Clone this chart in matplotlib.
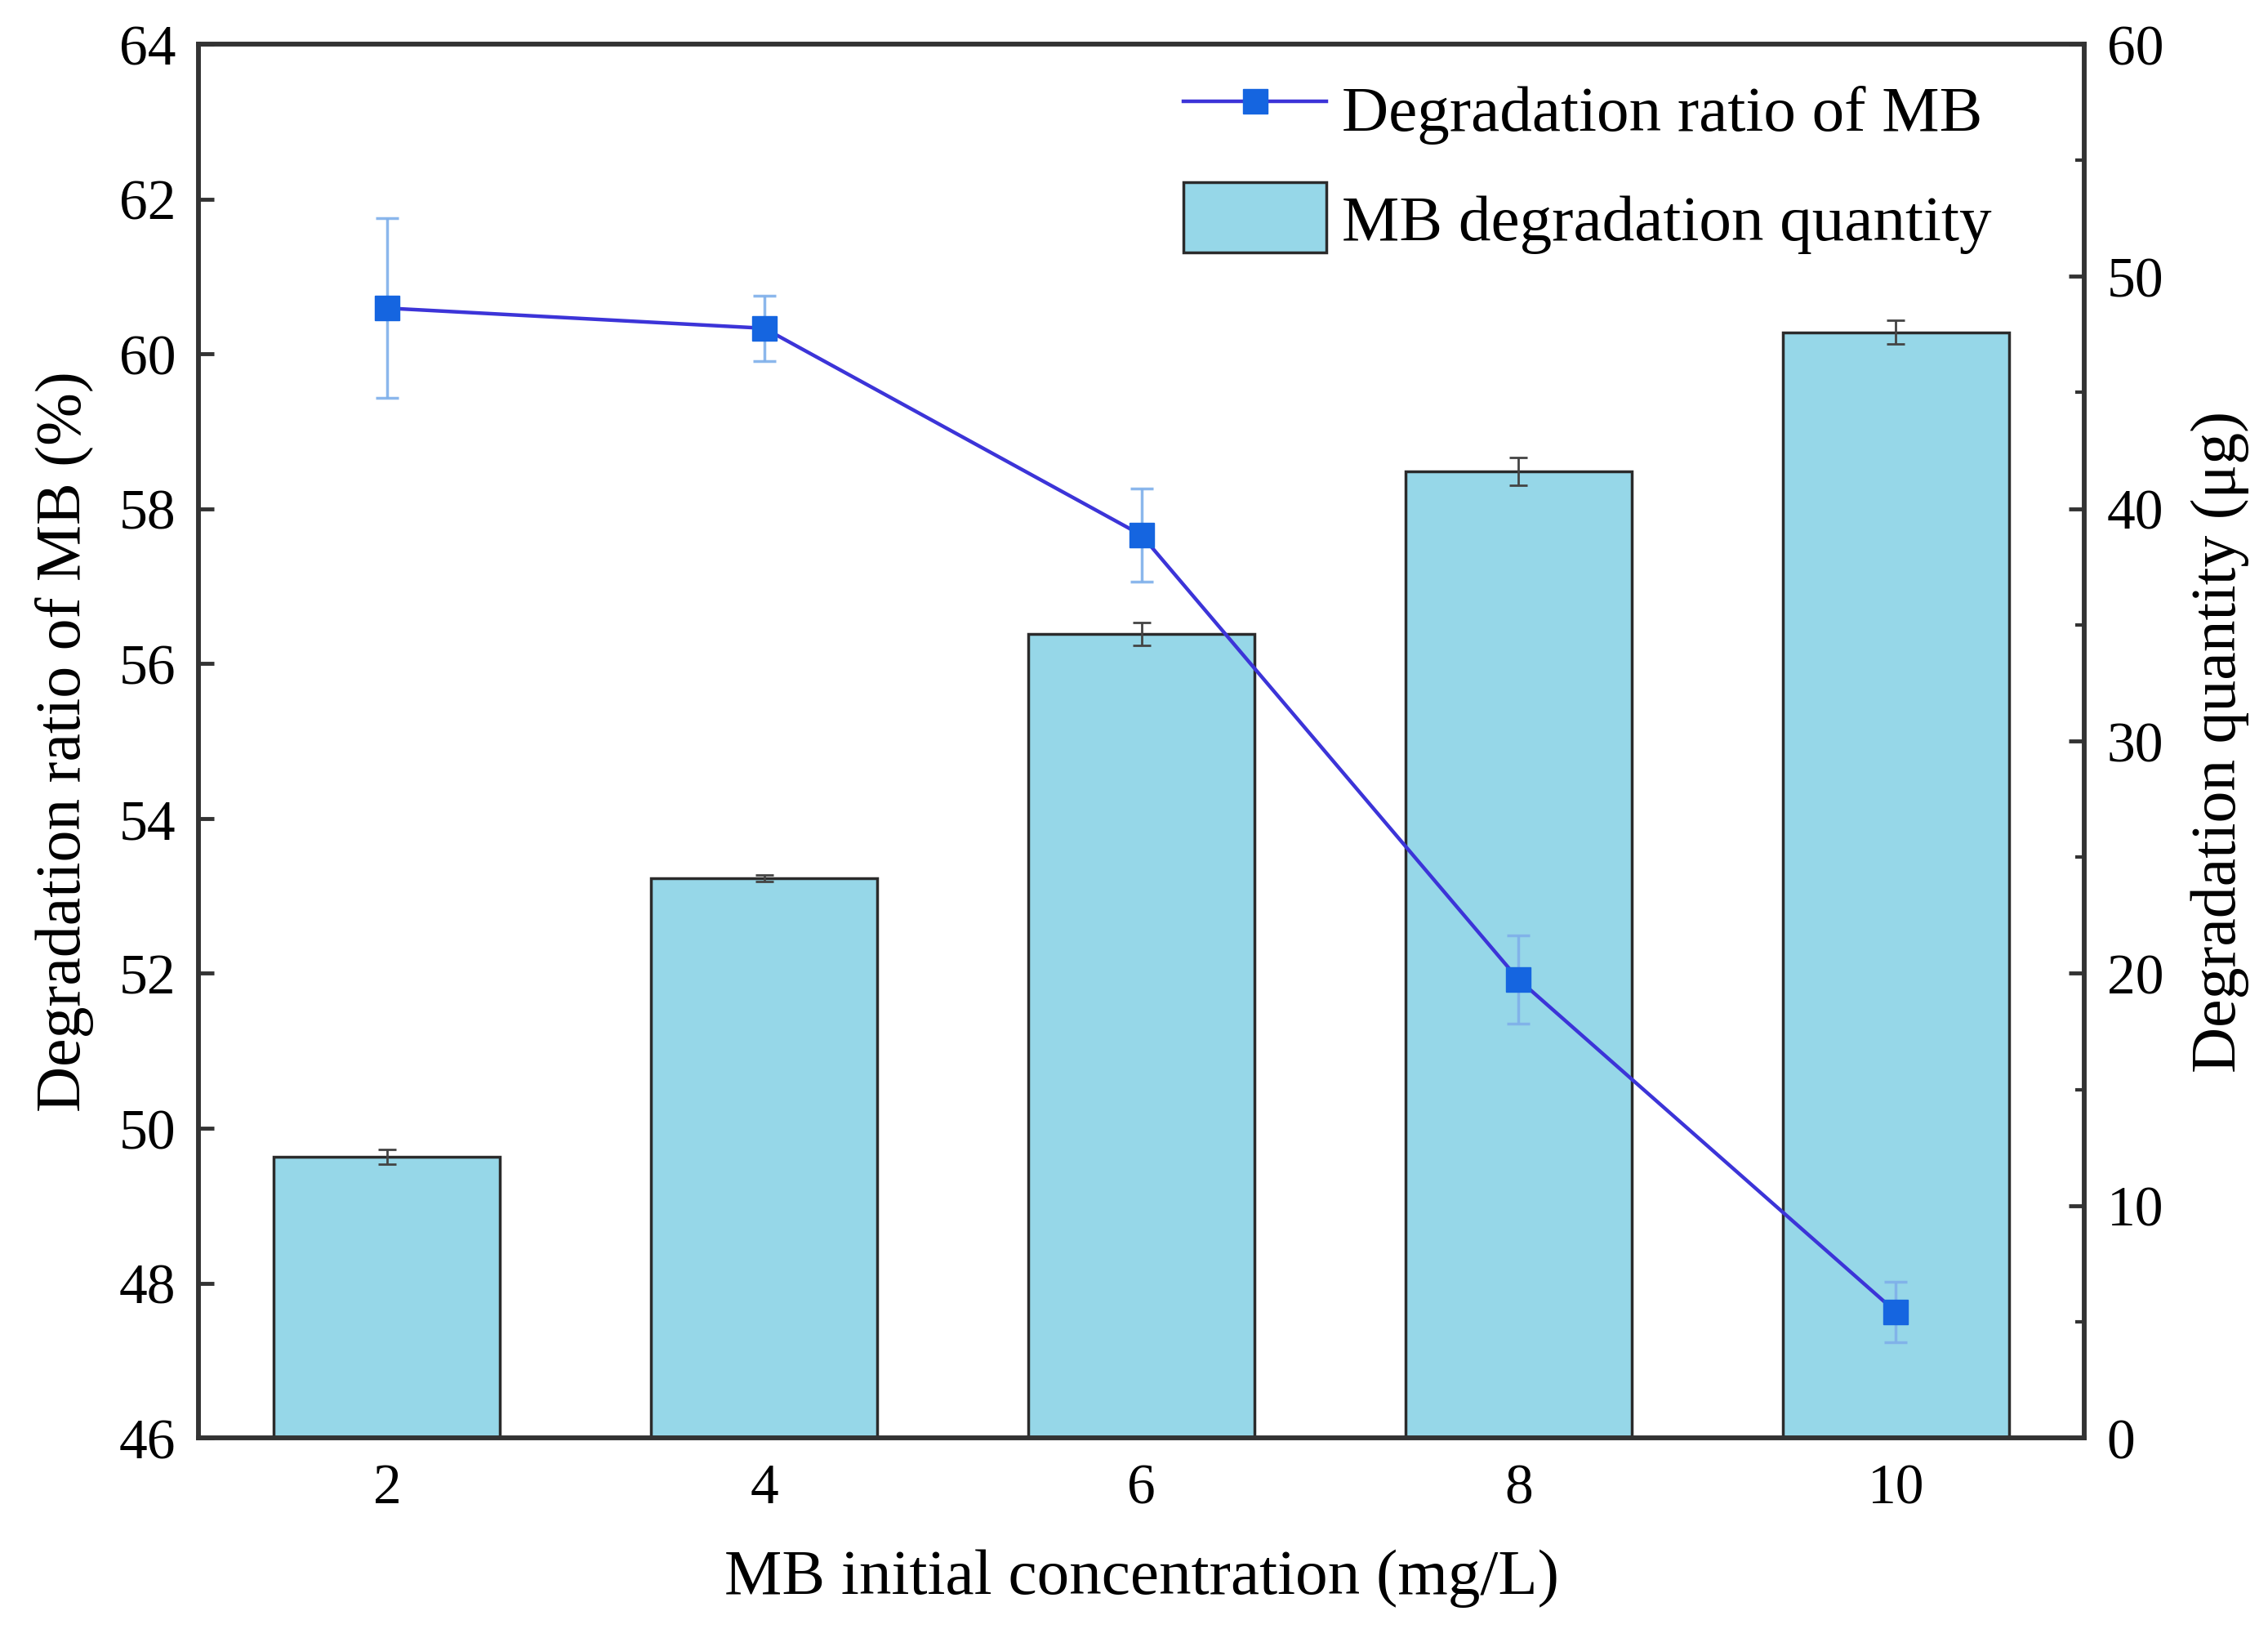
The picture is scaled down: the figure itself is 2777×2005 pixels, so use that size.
import matplotlib
matplotlib.use("Agg")
import matplotlib.pyplot as plt
from matplotlib.patches import Patch
from matplotlib.lines import Line2D
from matplotlib.ticker import MultipleLocator

# data
concentration = [2, 4, 6, 8, 10]
ratio = [60.59, 60.33, 57.66, 51.92, 47.63]
ratio_err = [1.16, 0.42, 0.60, 0.57, 0.39]
quantity = [12.1, 24.1, 34.6, 41.6, 47.6]
quantity_err = [0.3, 0.15, 0.5, 0.6, 0.5]

plt.rcParams['font.family'] = ['Liberation Serif', 'DejaVu Serif']

spine_color = '#333333'
bar_color = '#96D7E8'
line_color = '#3C34D8'
marker_color = '#1565E0'
err_color = '#7FB0EA'

fig = plt.figure(figsize=(27.77, 20.06), dpi=100)
ax1 = fig.add_axes([0.0875, 0.1221, 0.8315, 0.8505])
ax2 = ax1.twinx()

# bars on the right axis
ax2.bar(concentration, quantity, width=1.2, color=bar_color, edgecolor='#2b2b2b',
        linewidth=2.5, yerr=quantity_err, capsize=8,
        error_kw=dict(ecolor='#444444', elinewidth=2, capthick=2), zorder=2)

# line on the left axis, kept above the bars
ax1.set_zorder(ax2.get_zorder() + 1)
ax1.patch.set_visible(False)
ax1.errorbar(concentration, ratio, yerr=ratio_err, fmt='none', ecolor=err_color,
             elinewidth=2.5, capsize=10, capthick=2.5, alpha=0.9, zorder=3)
ax1.plot(concentration, ratio, color=line_color, linewidth=3.2, marker='s',
         markersize=22, markerfacecolor=marker_color, markeredgecolor=marker_color,
         zorder=4)

ax1.set_xlim(1, 11)
ax1.set_ylim(46, 64)
ax2.set_ylim(0, 60)
ax1.set_xticks(concentration)
ax1.yaxis.set_major_locator(MultipleLocator(2))
ax2.yaxis.set_major_locator(MultipleLocator(10))
ax2.yaxis.set_minor_locator(MultipleLocator(5))

ax1.tick_params(axis='y', direction='in', length=14, width=3.5, color=spine_color,
                labelsize=50, pad=20)
ax1.tick_params(axis='x', length=0, labelsize=50, pad=22)
ax2.tick_params(axis='y', which='major', direction='in', length=14, width=3.5,
                color=spine_color, labelsize=50, pad=20)
ax2.tick_params(axis='y', which='minor', direction='in', length=8, width=3,
                color=spine_color)

for ax in (ax1, ax2):
    for sp in ax.spines.values():
        sp.set_linewidth(4)
        sp.set_color(spine_color)

ax1.set_xlabel('MB initial concentration (mg/L)', fontsize=57, labelpad=30)
ax1.set_ylabel('Degradation ratio of MB (%)', fontsize=56, labelpad=22)
ax2.set_ylabel('Degradation quantity (μg)', fontsize=56, rotation=90, labelpad=24)

handles = [
    Line2D([0], [0], color=line_color, linewidth=3.2, marker='s', markersize=22,
           markerfacecolor=marker_color, markeredgecolor=marker_color),
    Patch(facecolor=bar_color, edgecolor='#2b2b2b', linewidth=2.5),
]
ax1.legend(handles, ['Degradation ratio of MB', 'MB degradation quantity'],
           loc='upper right', frameon=False, fontsize=57, handlelength=2.2,
           handleheight=1.3, handletextpad=0.25, labelspacing=0.6,
           borderaxespad=0.3, bbox_to_anchor=(0.975, 1.012))

fig.savefig('out.png', dpi=100)
